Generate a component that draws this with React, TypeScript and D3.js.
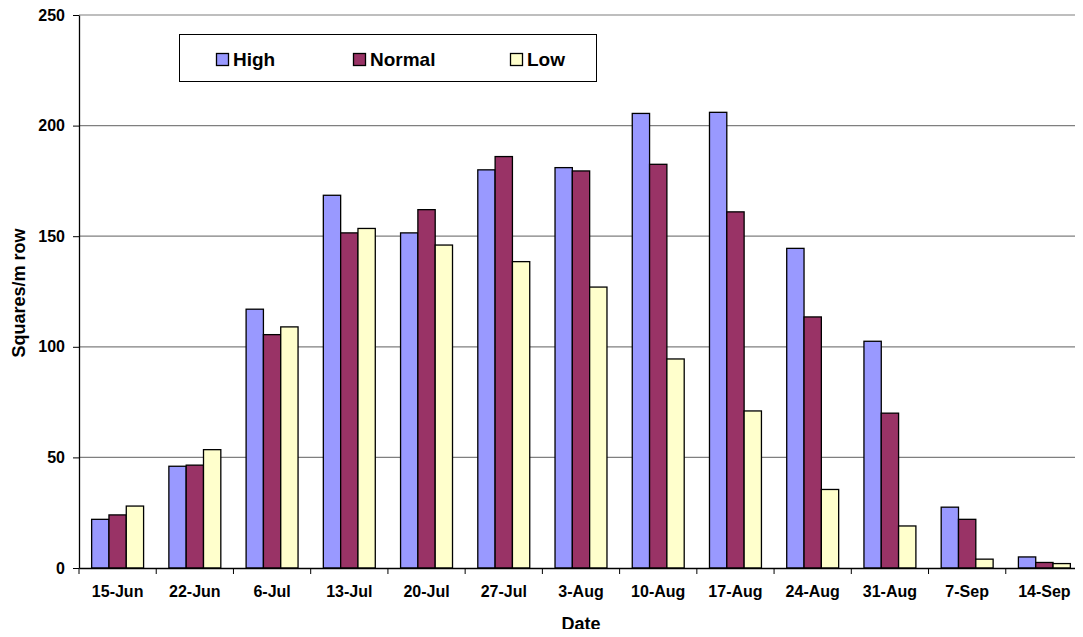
import React, { useEffect, useRef } from 'react';
import * as d3 from 'd3';

const dates = ['15-Jun', '22-Jun', '6-Jul', '13-Jul', '20-Jul', '27-Jul', '3-Aug', '10-Aug', '17-Aug', '24-Aug', '31-Aug', '7-Sep', '14-Sep'];
const seriesNames = ['High', 'Normal', 'Low'];
const high = [22, 46, 117, 168.5, 151.5, 180, 181, 205.5, 206, 144.5, 102.5, 27.5, 5];
const normal = [24, 46.5, 105.5, 151.5, 162, 186, 179.5, 182.5, 161, 113.5, 70, 22, 2.5];
const low = [28, 53.5, 109, 153.5, 146, 138.5, 127, 94.5, 71, 35.5, 19, 4, 2];
const yTicks = [0, 50, 100, 150, 200, 250];
const colors = ['#9999ff', '#993366', '#ffffcc'];

const App: React.FC = () => {
  const ref = useRef<SVGSVGElement>(null);

  useEffect(() => {
    if (!ref.current) return;
    const svg = d3.select(ref.current);
    svg.selectAll('*').remove();

    const left = 79, right = 1083, top = 15, bottom = 568;
    const font = 'Arial, "Liberation Sans", sans-serif';

    const x = d3.scaleBand<string>().domain(dates).range([left, right]).paddingInner(0).paddingOuter(0);
    const x1 = d3.scaleBand<string>().domain(seriesNames).range([0, x.bandwidth()]).paddingOuter(0.73).paddingInner(0);
    const y = d3.scaleLinear().domain([0, 250]).range([bottom, top]);

    // gridlines
    svg.append('g')
      .selectAll('line')
      .data(yTicks.filter(t => t > 0))
      .join('line')
      .attr('x1', left).attr('x2', right)
      .attr('y1', d => y(d)).attr('y2', d => y(d))
      .attr('stroke', '#7f7f7f').attr('stroke-width', 1.2);

    // bars
    const data = [high, normal, low];
    const groups = svg.append('g')
      .selectAll('g')
      .data(dates)
      .join('g')
      .attr('transform', d => `translate(${x(d)},0)`);
    groups.selectAll('rect')
      .data((d, i) => seriesNames.map((s, k) => ({ s, v: data[k][i], k })))
      .join('rect')
      .attr('x', d => x1(d.s) as number)
      .attr('width', x1.bandwidth())
      .attr('y', d => y(d.v))
      .attr('height', d => y(0) - y(d.v))
      .attr('fill', d => colors[d.k])
      .attr('stroke', '#000')
      .attr('stroke-width', 1.3);

    // y axis
    const yAxis = svg.append('g').attr('transform', `translate(${left},0)`)
      .call(d3.axisLeft(y).tickValues(yTicks).tickSize(6).tickPadding(8).tickSizeOuter(0));
    yAxis.select('.domain').attr('stroke', '#000').attr('stroke-width', 1.3);
    yAxis.selectAll('line').attr('stroke', '#000');
    yAxis.selectAll('text').attr('font-family', font).attr('font-size', 16).attr('font-weight', 'bold').attr('fill', '#000');

    // x axis
    const xAxis = svg.append('g').attr('transform', `translate(0,${bottom})`)
      .call(d3.axisBottom(x).tickSize(0).tickPadding(18));
    xAxis.select('.domain').attr('stroke', '#000').attr('stroke-width', 1.3);
    xAxis.selectAll('text').attr('font-family', font).attr('font-size', 16).attr('font-weight', 'bold').attr('fill', '#000');
    svg.append('g')
      .selectAll('line')
      .data(d3.range(dates.length + 1))
      .join('line')
      .attr('x1', i => left + i * x.bandwidth()).attr('x2', i => left + i * x.bandwidth())
      .attr('y1', bottom).attr('y2', bottom + 6)
      .attr('stroke', '#000').attr('stroke-width', 1);

    // axis titles
    svg.append('text')
      .attr('x', (left + right) / 2).attr('y', 630)
      .attr('text-anchor', 'middle')
      .attr('font-family', font).attr('font-size', 18).attr('font-weight', 'bold')
      .text('Date');
    svg.append('text')
      .attr('transform', `translate(25,293) rotate(-90)`)
      .attr('text-anchor', 'middle')
      .attr('font-family', font).attr('font-size', 18).attr('font-weight', 'bold')
      .text('Squares/m row');

    // legend
    const lg = svg.append('g');
    lg.append('rect')
      .attr('x', 179.5).attr('y', 34.5).attr('width', 417).attr('height', 47)
      .attr('fill', '#fff').attr('stroke', '#000').attr('stroke-width', 1);
    const lx = [216, 353, 510];
    seriesNames.forEach((s, k) => {
      lg.append('rect')
        .attr('x', lx[k] + 0.5).attr('y', 53.5).attr('width', 12).attr('height', 12)
        .attr('fill', colors[k]).attr('stroke', '#000').attr('stroke-width', 1.3);
      lg.append('text')
        .attr('x', lx[k] + 17).attr('y', 66)
        .attr('font-family', font).attr('font-size', 19).attr('font-weight', 'bold')
        .text(s);
    });
  }, []);

  return <svg ref={ref} width={1083} height={637} style={{ display: 'block', margin: -8 }} />;
};

export default App;
